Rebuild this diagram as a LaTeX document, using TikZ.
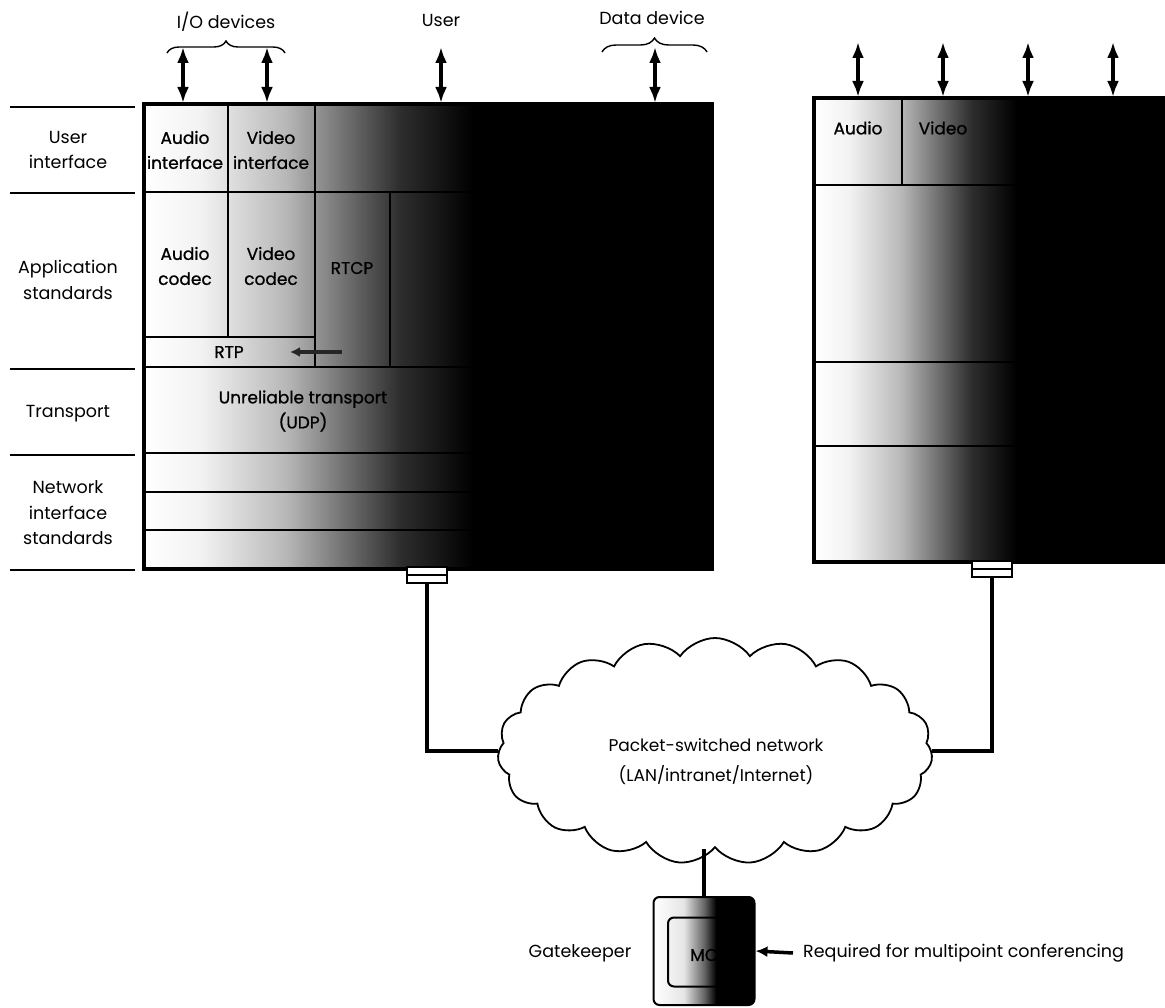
\documentclass[tikz,border=0pt]{standalone}
\usepackage{fontspec}
\setmainfont{Poppins}
\newfontfamily\cellfont[FakeBold=0.9]{Poppins}
\usetikzlibrary{arrows.meta,shapes.symbols,decorations.pathreplacing,calc}

% TikZ maps the path onto the middle 50bp (25bp..75bp) of a 100bp shading
\pgfdeclarehorizontalshading{stackshade}{100bp}{color(0bp)=(white); color(25bp)=(white); color(30bp)=(black!5); color(37.5bp)=(black!28); color(42.5bp)=(black!55); color(47.5bp)=(black!82); color(54bp)=(black); color(100bp)=(black)}
\pgfdeclarehorizontalshading{gkshade}{100bp}{color(0bp)=(white); color(25bp)=(white); color(40bp)=(black!10); color(50bp)=(black!60); color(56bp)=(black); color(100bp)=(black)}

\tikzset{
  lbl/.style={font=\fontsize{17.5}{25.5}\selectfont, align=center, inner sep=0pt},
  cell/.style={font=\fontsize{17}{25}\cellfont, align=center, inner sep=0pt},
  gridline/.style={line width=1.8pt},
  link/.style={line width=4pt},
  dbl/.style={line width=3.6pt, {Latex[length=16pt,width=12pt]}-{Latex[length=16pt,width=12pt]}},
  stack/.style={draw, line width=2.6pt, shading=stackshade, inner sep=0pt, anchor=north west},
  port/.style={draw, line width=1.6pt, fill=white, minimum width=40pt, minimum height=16pt, inner sep=0pt, anchor=north},
  bracelines/.style={line width=1.4pt, decorate, decoration={brace, amplitude=12pt}},
}

\begin{document}
\begin{tikzpicture}[x=1pt,y=-1pt]
\useasboundingbox (0,0) rectangle (1165,1008);
\fill[white] (0,0) rectangle (1165,1008);

% ---- left layer labels
\foreach \yy in {107,193,369,455,570} \draw[line width=1.8pt] (10,\yy) -- (135,\yy);
\node[lbl] (lui) at (68,150) {User\\interface};
\node[lbl] (lapp) at (68,280) {Application\\standards};
\node[lbl] (ltr) at (68,414) {Transport};
\node[lbl] (lnet) at (68,513) {Network\\interface\\standards};

% ---- left stack
\node[stack, minimum width=567pt, minimum height=464pt] (lblock) at (143,103) {};
\draw[gridline] (143,192) -- (710,192);
\draw[gridline] (143,337) -- (315,337);
\draw[gridline] (228,103) -- (228,337);
\draw[gridline] (315,103) -- (315,367);
\draw[gridline] (390,192) -- (390,367);
\draw[gridline] (143,367) -- (710,367);
\draw[gridline] (143,453) -- (710,453);
\draw[gridline] (143,492) -- (710,492);
\draw[gridline] (143,530) -- (710,530);
\draw[line width=2.6pt] (lblock.north west) rectangle (lblock.south east);

\node[cell] (ai) at (185,150) {Audio\\interface};
\node[cell] (vi) at (271,150) {Video\\interface};
\node[cell] (ac) at (185,266) {Audio\\codec};
\node[cell] (vc) at (271,266) {Video\\codec};
\node[cell] (rtcp) at (352,268) {RTCP};
\node[cell] (rtp) at (229,352) {RTP};
\node[cell] (udp) at (303,411) {Unreliable transport\\(UDP)};
\coordinate (rtcpb) at (342,352);
\draw[line width=4pt, black!85, -{Latex[length=10pt,width=10pt]}] (rtcpb) -- ++(-52,0);

% ---- right stack
\node[stack, minimum width=349pt, minimum height=463pt] (rblock) at (813,97) {};
\draw[gridline] (813,185) -- (1162,185);
\draw[gridline] (902,97) -- (902,185);
\draw[gridline] (813,362) -- (1162,362);
\draw[gridline] (813,446) -- (1162,446);
\draw[line width=2.6pt] (rblock.north west) rectangle (rblock.south east);
\node[cell] (ra) at (858,128) {Audio};
\node[cell] (rv) at (943,128) {Video};

% ---- device arrows
\foreach \n/\xx in {a1/183,a2/267,a3/441,a4/655} {
  \coordinate (\n) at (\xx,47);
  \draw[dbl] (\n) -- (\n |- lblock.north);
}
\foreach \n/\xx in {b1/858,b2/943,b3/1028,b4/1113} {
  \coordinate (\n) at (\xx,42);
  \draw[dbl] (\n) -- (\n |- rblock.north);
}

% ---- top labels and braces
\node[lbl] (io) at (226,22) {I/O devices};
\node[lbl] (usr) at (441,20) {User};
\node[lbl] (dd) at (652,18) {Data device};
\draw[bracelines] (167,53) -- (285,53);
\draw[bracelines, decoration={brace, amplitude=14pt}] (602,52) -- (707,52);

% ---- ports
\node[port] (lport) at (427,566) {};
\draw[line width=1.6pt] (lport.west) -- (lport.east);
\node[port] (rport) at (992,560) {};
\draw[line width=1.6pt] (rport.west) -- (rport.east);

% ---- network cloud
\node[cloud, draw, line width=1.8pt, cloud puffs=19, cloud puff arc=110, aspect=2,
      minimum width=435pt, minimum height=226pt, inner sep=0pt] (net) at (715,751) {};
\node[lbl, font=\fontsize{17}{30}\selectfont] (nettext) at (716,762) {Packet-switched network\\(LAN/intranet/Internet)};

\draw[link] (lport.south) |- (net.west);
\draw[link] (rport.south) |- (net.east);

% ---- gatekeeper
\node[draw, line width=2pt, rounded corners=6pt, shading=gkshade, minimum width=101pt, minimum height=108pt, inner sep=0pt, anchor=north] (gk) at (704,896) {};
\node[draw, line width=2pt, rounded corners=6pt, minimum width=62pt, minimum height=69pt, inner sep=0pt] (mcu) at (699,952) {};
\node[cell, anchor=west] (mcut) at (690,955) {MCU};
\draw[link] (gk.north) -- (gk.north |- net.south);
\node[lbl] (gkl) at (580,953) {Gatekeeper};
\node[lbl, anchor=west] (req) at (803,953) {Required for multipoint conferencing};
\draw[line width=3.5pt, -{Latex[length=12pt,width=11pt]}] ([xshift=-10pt]req.west) -- (gk.east);
\end{tikzpicture}
\end{document}
